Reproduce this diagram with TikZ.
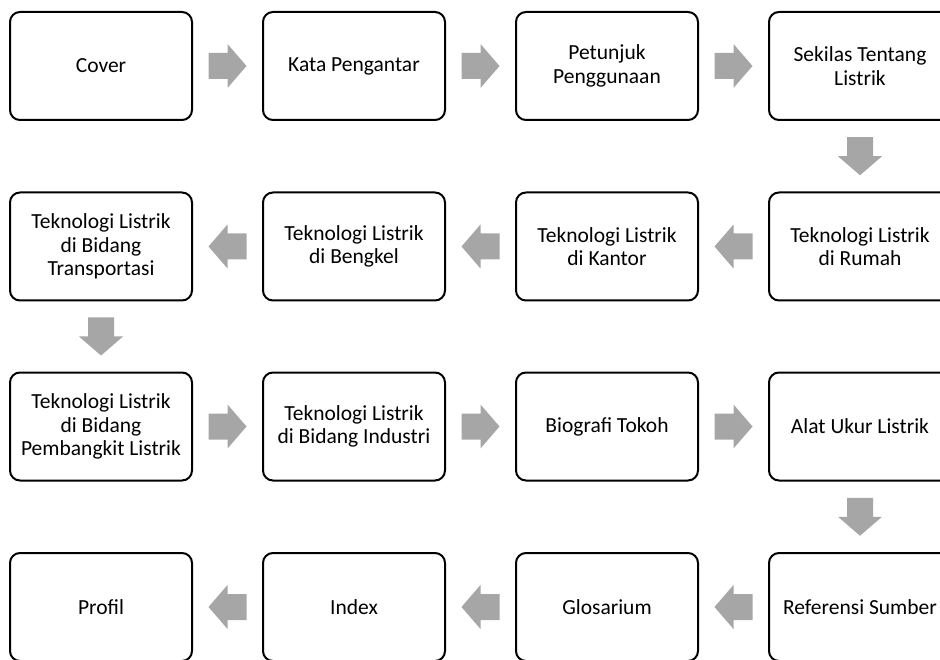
\documentclass[tikz,border=0pt]{standalone}
\usepackage{fontspec}
\setmainfont{Carlito}
\usetikzlibrary{calc}
\definecolor{arrowgray}{HTML}{A6A6A6}
\tikzset{
  box/.style={draw=black, line width=2pt, rounded corners=10pt, fill=white,
    minimum width=182pt, minimum height=108pt, align=center,
    font=\fontsize{21.5pt}{23.5pt}\selectfont, inner sep=2pt},
  rarrow/.pic={\fill[arrowgray] (-19,-13) -- (0,-13) -- (0,-22) -- (19,0) -- (0,22) -- (0,13) -- (-19,13) -- cycle;},
  larrow/.pic={\fill[arrowgray] (19,-13) -- (0,-13) -- (0,-22) -- (-19,0) -- (0,22) -- (0,13) -- (19,13) -- cycle;},
  darrow/.pic={\fill[arrowgray] (-13,-19) -- (-13,0) -- (-22,0) -- (0,19) -- (22,0) -- (13,0) -- (13,-19) -- cycle;}
}
\begin{document}
\begin{tikzpicture}[x=1pt,y=-1pt]
\useasboundingbox (0,0) rectangle (940,660);
\clip (0,0) rectangle (940,660);
% row 1
\node[box] (a1) at (101,66) {Cover};
\node[box] (a2) at (354,66) {Kata Pengantar};
\node[box] (a3) at (607,66) {Petunjuk\\Penggunaan};
\node[box] (a4) at (860,66) {Sekilas Tentang\\Listrik};
% row 2
\node[box] (b4) at (860,246.5) {Teknologi Listrik\\di Rumah};
\node[box] (b3) at (607,246.5) {Teknologi Listrik\\di Kantor};
\node[box] (b2) at (354,246.5) {Teknologi Listrik\\di Bengkel};
\node[box] (b1) at (101,246.5) {Teknologi Listrik\\di Bidang\\Transportasi};
% row 3
\node[box] (c1) at (101,426.5) {Teknologi Listrik\\di Bidang\\Pembangkit Listrik};
\node[box] (c2) at (354,426.5) {Teknologi Listrik\\di Bidang Industri};
\node[box] (c3) at (607,426.5) {Biografi Tokoh};
\node[box] (c4) at (860,426.5) {Alat Ukur Listrik};
% row 4
\node[box] (d4) at (860,607) {Referensi Sumber};
\node[box] (d3) at (607,607) {Glosarium};
\node[box] (d2) at (354,607) {Index};
\node[box] (d1) at (101,607) {Profil};
% arrows
\pic at ($(a1.east)!0.5!(a2.west)$) {rarrow};
\pic at ($(a2.east)!0.5!(a3.west)$) {rarrow};
\pic at ($(a3.east)!0.5!(a4.west)$) {rarrow};
\pic at ($(a4.south)!0.5!(b4.north)$) {darrow};
\pic at ($(b4.west)!0.5!(b3.east)$) {larrow};
\pic at ($(b3.west)!0.5!(b2.east)$) {larrow};
\pic at ($(b2.west)!0.5!(b1.east)$) {larrow};
\pic at ($(b1.south)!0.5!(c1.north)$) {darrow};
\pic at ($(c1.east)!0.5!(c2.west)$) {rarrow};
\pic at ($(c2.east)!0.5!(c3.west)$) {rarrow};
\pic at ($(c3.east)!0.5!(c4.west)$) {rarrow};
\pic at ($(c4.south)!0.5!(d4.north)$) {darrow};
\pic at ($(d4.west)!0.5!(d3.east)$) {larrow};
\pic at ($(d3.west)!0.5!(d2.east)$) {larrow};
\pic at ($(d2.west)!0.5!(d1.east)$) {larrow};
\end{tikzpicture}
\end{document}
